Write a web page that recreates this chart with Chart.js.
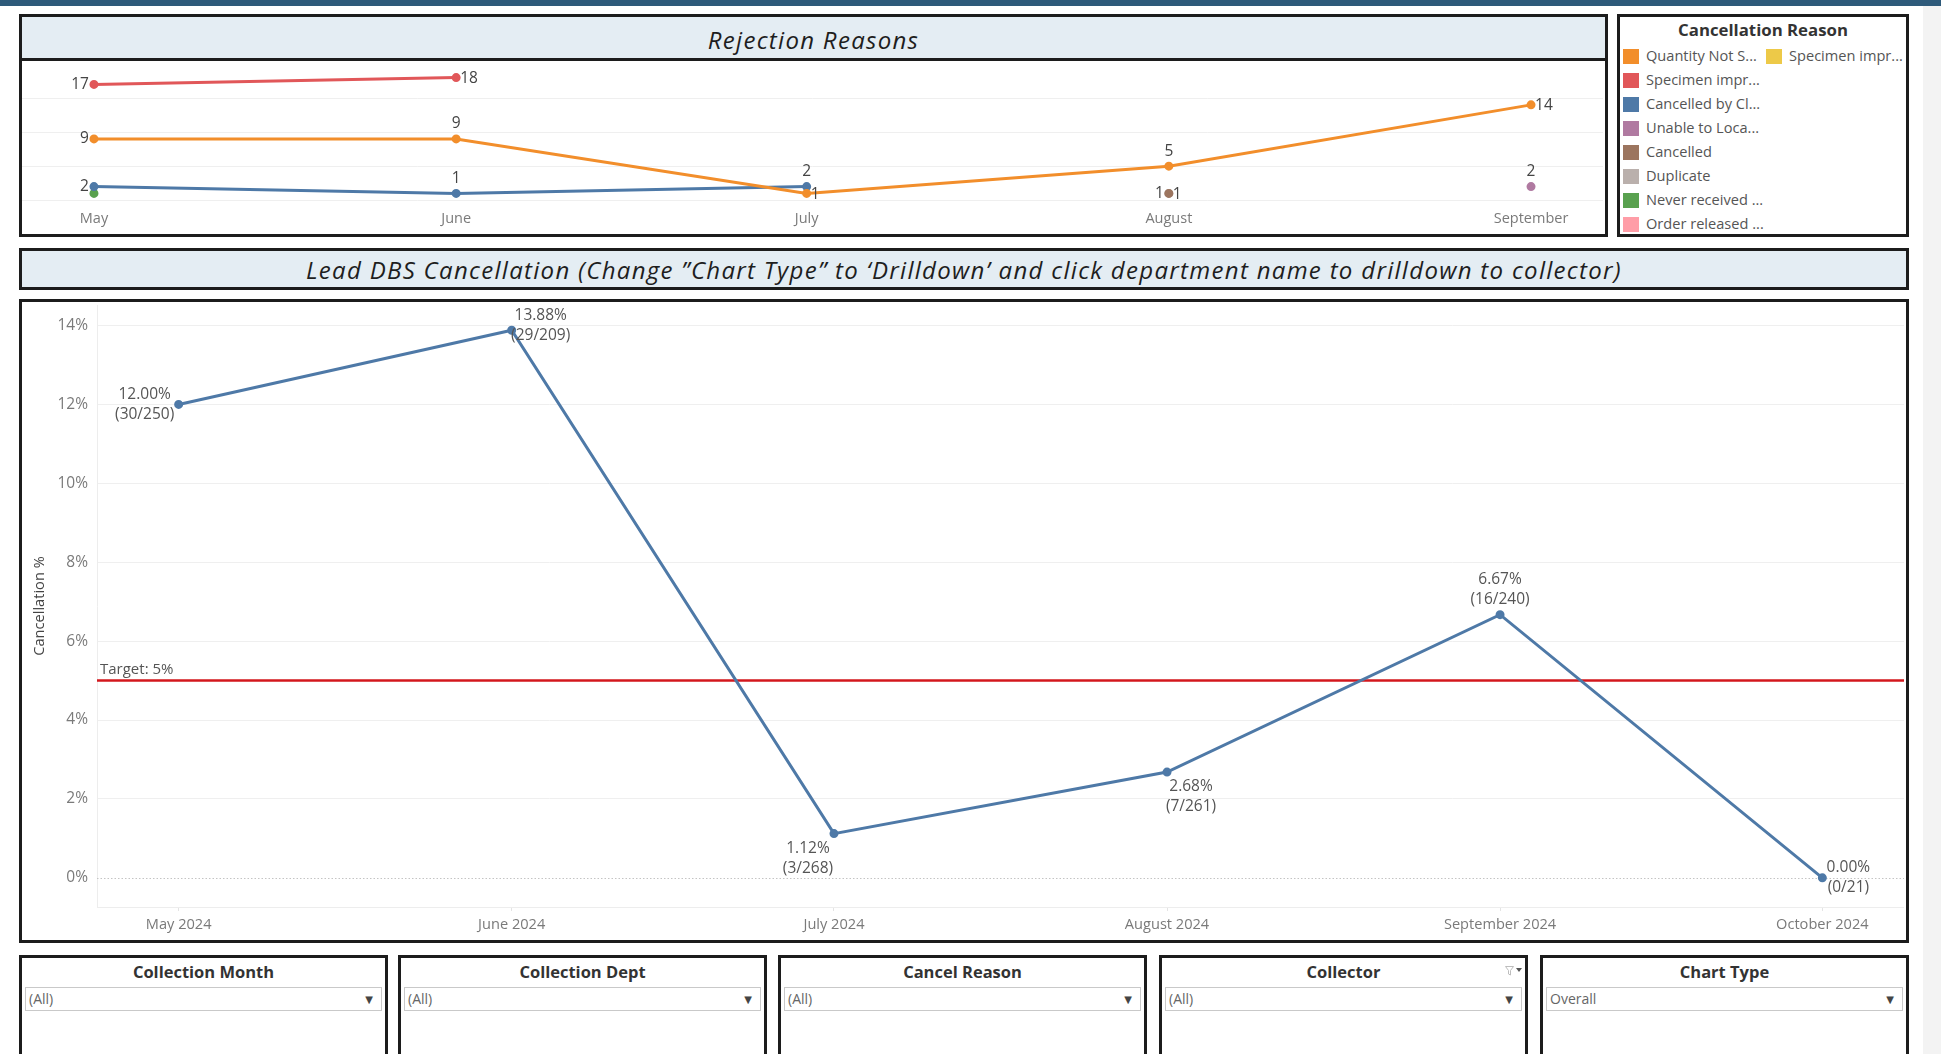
<!DOCTYPE html>
<html>
<head>
<meta charset="utf-8">
<title>Lead DBS Cancellation</title>
<script src="https://cdn.jsdelivr.net/npm/chart.js@4.4.1/dist/chart.umd.min.js"></script>
<style>
  html, body { margin: 0; padding: 0; background: #fff; }
  body { width: 1941px; height: 1054px; overflow: hidden; position: relative; font-family: "Open Sans", "DejaVu Sans", sans-serif; }
  .abs { position: absolute; box-sizing: border-box; }
  .frame { border: 3px solid #1c1c1c; }
  .band { background: #e4edf3; }
  .title { text-align: center; font-style: italic; font-size: 24px; letter-spacing: 1.3px; color: #1e1e1e; white-space: nowrap; }
  .legend-title { text-align: center; font-weight: 700; font-size: 16.8px; color: #333; }
  .legend-item { font-size: 14.6px; color: #555; white-space: nowrap; line-height: 24px; }
  .legend-item .sw { display: inline-block; width: 16px; height: 15px; vertical-align: -3px; margin-right: 7px; }
  .filter-title { text-align: center; font-weight: 700; font-size: 16.5px; color: #333; line-height: 28px; }
  .dd { border: 1px solid #c9c9c9; background: #fff; height: 24px; font-size: 14px; color: #666; line-height: 22px; padding-left: 3px; }
  .dd .arr { position: absolute; right: 8px; top: 0; font-size: 10px; color: #444; }
  canvas { position: absolute; }
</style>
</head>
<body>

<div class="abs" style="left:0;top:0;width:1941px;height:6px;background:#2e5a7a"></div>
<div class="abs" style="left:1923px;top:6px;width:18px;height:1048px;background:#f3f3f3"></div>

<!-- Rejection Reasons panel -->
<div class="abs frame" style="left:19px;top:14px;width:1589px;height:223px"></div>
<div class="abs band" style="left:22px;top:17px;width:1583px;height:41px"></div>
<div class="abs" style="left:22px;top:58px;width:1583px;height:3px;background:#1c1c1c"></div>
<div class="abs title" style="left:22px;top:19px;width:1583px;height:41px;line-height:41px">Rejection Reasons</div>
<canvas id="rejChart" width="1581" height="173" style="left:22px;top:61px"></canvas>

<!-- Cancellation Reason legend -->
<div class="abs frame" style="left:1617px;top:14px;width:292px;height:223px"></div>
<div class="abs legend-title" style="left:1620px;top:17px;width:286px;height:26px;line-height:26px">Cancellation Reason</div>
<div id="legend"></div>

<!-- Lead DBS Cancellation -->
<div class="abs frame band" style="left:19px;top:248px;width:1890px;height:42px"></div>
<div class="abs title" style="left:22px;top:252px;width:1884px;height:36px;line-height:36px">Lead DBS Cancellation (Change ”Chart Type” to ‘Drilldown’ and click department name to drilldown to collector)</div>
<div class="abs frame" style="left:19px;top:299px;width:1890px;height:644px"></div>
<canvas id="cancelChart" width="1882" height="638" style="left:22px;top:302px"></canvas>

<!-- Filters -->
<div id="filters"></div>

<script>
// ---- Rejection reasons by month ----
const rejMonths = ['May', 'June', 'July', 'August', 'September'];
const rejMonthIndex = [4, 5, 6, 7, 8];

const reasonNames = ['Quantity Not S...', 'Specimen impr...', 'Cancelled by Cl...', 'Unable to Loca...',
                     'Cancelled', 'Duplicate', 'Never received ...', 'Order released ...', 'Specimen impr...'];
const reasonColors = ['#f28e2b', '#e15759', '#4e79a7', '#b07aa1', '#9c755f', '#bab0ac', '#59a14f', '#ff9da7', '#edc948'];

const qtyNotSufficient   = [9, 9, 1, 5, 14];
const specimenImproper   = [17, 18, null, null, null];
const cancelledByClinic  = [2, 1, 2, null, null];
const unableToLocate     = [null, null, null, null, 2];
const cancelledOnly      = [null, null, null, 1, null];
const duplicateOrder     = [null, null, null, 1, null];
const neverReceived      = [1, null, null, null, null];
const orderReleased      = [null, null, null, null, null];
const specimenImproper2  = [null, null, null, null, null];

const reasonSeries = [qtyNotSufficient, specimenImproper, cancelledByClinic, unableToLocate,
                      cancelledOnly, duplicateOrder, neverReceived, orderReleased, specimenImproper2];

// ---- Lead DBS cancellation by month ----
const cancelMonths = ['May 2024', 'June 2024', 'July 2024', 'August 2024', 'September 2024', 'October 2024'];
const cancelMonthIndex = [4, 5, 6, 7, 8, 9];
const cancelledCount = [30, 29, 3, 7, 16, 0];
const collectedCount = [250, 209, 268, 261, 240, 21];
const cancelPct      = [12.00, 13.88, 1.12, 2.68, 6.67, 0.00];
const targetPct = 5;
const pctTicks = [0, 2, 4, 6, 8, 10, 12, 14];
const countGrid = [0, 5, 10, 15];

// ---- Filter cards ----
const filterTitles = ['Collection Month', 'Collection Dept', 'Cancel Reason', 'Collector', 'Chart Type'];
const filterValues = ['(All)', '(All)', '(All)', '(All)', 'Overall'];

// days since 1 May 2024, so the month axis is a true calendar axis
const dayOffset = m => (Date.UTC(2024, m, 1) - Date.UTC(2024, 4, 1)) / 86400000;
const rejX = rejMonthIndex.map(dayOffset);
const cancelX = cancelMonthIndex.map(dayOffset);

const FONT = '"Open Sans", "DejaVu Sans", sans-serif';

// keep the plot area exactly where the axes put it
const noAutoPadding = s => { s.paddingLeft = 0; s.paddingRight = 0; s.paddingTop = 0; s.paddingBottom = 0; };

// label placement for the rejection chart, per reason / month
const rejLabelPlace = [
  ['left', 'above', 'right', 'above', 'right'],
  ['left', 'right'],
  ['left', 'above', 'above'],
  [null, null, null, null, 'above'],
  [null, null, null, 'right'],
  [null, null, null, 'left'],
  ['none']
];

const rejLabels = {
  id: 'rejLabels',
  afterDatasetsDraw(chart) {
    const ctx = chart.ctx;
    ctx.save();
    ctx.font = '15.5px ' + FONT;
    ctx.fillStyle = '#444';
    ctx.textBaseline = 'middle';
    chart.data.datasets.forEach((ds, k) => {
      const meta = chart.getDatasetMeta(k);
      meta.data.forEach((pt, i) => {
        const v = ds.data[i].y;
        if (v === null || v === undefined) return;
        const place = (rejLabelPlace[k] || [])[i] || 'above';
        if (place === 'none') return;
        let x = pt.x, y = pt.y;
        if (place === 'left') { ctx.textAlign = 'right'; x -= 5; }
        else if (place === 'right') { ctx.textAlign = 'left'; x += 4; y += 1; }
        else { ctx.textAlign = 'center'; y -= 15; }
        ctx.fillText(String(v), x, y);
      });
    });
    ctx.restore();
  }
};

new Chart(document.getElementById('rejChart'), {
  type: 'line',
  data: {
    datasets: reasonSeries.map((s, k) => ({
      label: reasonNames[k],
      data: rejX.map((x, i) => ({ x: x, y: s[i] })),
      borderColor: reasonColors[k],
      backgroundColor: reasonColors[k],
      borderWidth: 3,
      pointRadius: 3,
      pointHoverRadius: 3,
      tension: 0,
      spanGaps: false
    }))
  },
  options: {
    responsive: false,
    animation: false,
    devicePixelRatio: 1,
    layout: { autoPadding: false, padding: { top: 3, left: 0, right: 0, bottom: 0 } },
    plugins: { legend: { display: false }, tooltip: { enabled: false } },
    scales: {
      x: {
        type: 'linear', min: -6.16, max: 129.16,
        afterBuildTicks: a => { a.ticks = rejX.map(v => ({ value: v })); },
        ticks: { callback: (v, i) => rejMonths[i], font: { family: FONT, size: 14.5 }, color: '#7a7a7a', padding: 5, maxRotation: 0, autoSkip: false },
        grid: { display: false, drawTicks: false },
        border: { display: false },
        afterFit: s => { s.height = 29; noAutoPadding(s); }
      },
      y: {
        min: -0.7, max: 20,
        afterBuildTicks: a => { a.ticks = countGrid.map(v => ({ value: v })); },
        ticks: { display: false },
        grid: { color: '#efefef', drawTicks: false },
        border: { display: false },
        afterFit: s => { s.width = 0; noAutoPadding(s); }
      }
    }
  },
  plugins: [rejLabels]
});

// labels, target line and dotted zero line on the cancellation chart
const labelShift = [[-34, 0], [29, -5], [-26, 25], [24, 24], [0, -25], [26, 0]];

const cancelDecor = {
  id: 'cancelDecor',
  beforeDatasetsDraw(chart) {
    const { ctx, chartArea: a, scales: { y } } = chart;
    ctx.save();
    // zero line
    const y0 = Math.round(y.getPixelForValue(0)) + 0.5;
    ctx.strokeStyle = '#c4c4c4';
    ctx.lineWidth = 1;
    ctx.setLineDash([1.5, 2]);
    ctx.beginPath(); ctx.moveTo(a.left, y0); ctx.lineTo(a.right, y0); ctx.stroke();
    ctx.setLineDash([]);
    // target reference line
    const yt = y.getPixelForValue(targetPct);
    ctx.strokeStyle = '#d3171d';
    ctx.lineWidth = 2.5;
    ctx.beginPath(); ctx.moveTo(a.left, yt); ctx.lineTo(a.right, yt); ctx.stroke();
    ctx.font = '15px ' + FONT;
    ctx.fillStyle = '#555';
    ctx.textAlign = 'left';
    ctx.textBaseline = 'middle';
    ctx.fillText('Target: ' + targetPct + '%', a.left + 3, yt - 11);
    ctx.restore();
  },
  afterDatasetsDraw(chart) {
    const ctx = chart.ctx;
    const meta = chart.getDatasetMeta(0);
    ctx.save();
    ctx.font = '15.5px ' + FONT;
    ctx.fillStyle = '#555';
    ctx.textAlign = 'center';
    ctx.textBaseline = 'middle';
    meta.data.forEach((pt, i) => {
      const cx = pt.x + labelShift[i][0];
      const cy = pt.y + labelShift[i][1];
      ctx.fillText(cancelPct[i].toFixed(2) + '%', cx, cy - 10);
      ctx.fillText('(' + cancelledCount[i] + '/' + collectedCount[i] + ')', cx, cy + 10);
    });
    ctx.restore();
  }
};

new Chart(document.getElementById('cancelChart'), {
  type: 'line',
  data: {
    datasets: [{
      label: 'Cancellation %',
      data: cancelX.map((x, i) => ({ x: x, y: cancelPct[i] })),
      borderColor: '#4e79a7',
      backgroundColor: '#4e79a7',
      borderWidth: 3,
      pointRadius: 3,
      pointHoverRadius: 3,
      tension: 0
    }]
  },
  options: {
    responsive: false,
    animation: false,
    devicePixelRatio: 1,
    layout: { autoPadding: false, padding: { top: 3, left: 0, right: 0, bottom: 0 } },
    plugins: { legend: { display: false }, tooltip: { enabled: false } },
    scales: {
      x: {
        type: 'linear', min: -7.6, max: 160.6,
        afterBuildTicks: a => { a.ticks = cancelX.map(v => ({ value: v })); },
        ticks: { callback: (v, i) => cancelMonths[i], font: { family: FONT, size: 14.6 }, color: '#7a7a7a', padding: 5, maxRotation: 0, autoSkip: false },
        grid: { drawOnChartArea: false, drawTicks: true, tickLength: 4, color: '#e4e4e4' },
        border: { display: true, color: '#ededed' },
        afterFit: s => { s.height = 33; noAutoPadding(s); }
      },
      y: {
        min: -0.74, max: 14.52,
        afterBuildTicks: a => { a.ticks = pctTicks.map(v => ({ value: v })); },
        ticks: { callback: v => v + '%', font: { family: FONT, size: 15.5 }, color: '#7a7a7a', padding: 9 },
        grid: { color: c => (c.tick && c.tick.value === 0) ? 'rgba(0,0,0,0)' : '#efefef', drawTicks: false },
        border: { display: true, color: '#ededed' },
        title: { display: true, text: 'Cancellation %', font: { family: FONT, size: 14.6 }, color: '#444', padding: { top: 9, bottom: 0 } },
        afterFit: s => { s.width = 75; noAutoPadding(s); }
      }
    }
  },
  plugins: [cancelDecor]
});

// legend cards, column-major with eight rows
const legend = document.getElementById('legend');
reasonNames.forEach((name, i) => {
  const col = Math.floor(i / 8), row = i % 8;
  const d = document.createElement('div');
  d.className = 'abs legend-item';
  d.style.left = (1623 + col * 143) + 'px';
  d.style.top = (43 + row * 24) + 'px';
  d.innerHTML = '<span class="sw" style="background:' + reasonColors[i] + '"></span>' + name;
  legend.appendChild(d);
});

// filter cards
const filters = document.getElementById('filters');
const filterLeft = [19, 398, 778, 1159, 1540];
filterTitles.forEach((t, i) => {
  const L = filterLeft[i];
  const box = document.createElement('div');
  box.className = 'abs frame';
  box.style.cssText = 'left:' + L + 'px;top:955px;width:369px;height:130px';
  filters.appendChild(box);
  const ti = document.createElement('div');
  ti.className = 'abs filter-title';
  ti.style.cssText = 'left:' + (L + 3) + 'px;top:958px;width:363px;height:28px';
  ti.textContent = t;
  filters.appendChild(ti);
  const dd = document.createElement('div');
  dd.className = 'abs dd';
  dd.style.cssText = 'left:' + (L + 6) + 'px;top:987px;width:357px';
  dd.innerHTML = filterValues[i] + '<span class="arr">&#9660;</span>';
  filters.appendChild(dd);
  if (t === 'Collector') {
    const ic = document.createElement('div');
    ic.className = 'abs';
    ic.style.cssText = 'left:' + (L + 346) + 'px;top:960px;width:20px;height:12px';
    ic.innerHTML = '<svg width="20" height="12"><path d="M0.5 1.5 L8.5 1.5 L5.5 5.5 L5.5 10 L3.5 9 L3.5 5.5 Z" fill="none" stroke="#bdbdbd" stroke-width="1"/><path d="M11 3 L17 3 L14 7 Z" fill="#555"/></svg>';
    filters.appendChild(ic);
  }
});
</script>
</body>
</html>
